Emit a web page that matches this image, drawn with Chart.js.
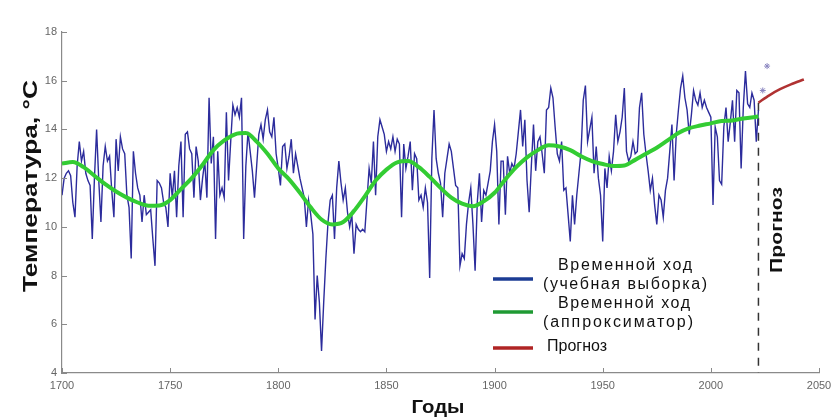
<!DOCTYPE html>
<html><head><meta charset="utf-8">
<script src="https://cdn.jsdelivr.net/npm/chart.js@4.4.0/dist/chart.umd.min.js"></script>
<style>html,body{margin:0;padding:0;background:#fff;overflow:hidden}canvas{display:block}</style>
</head><body>
<canvas id="c" width="840" height="419"></canvas>
<script>
const xTickLabels = [1700, 1750, 1800, 1850, 1900, 1950, 2000, 2050];
const yTickLabels = [4, 6, 8, 10, 12, 14, 16, 18];

const blueStartYear = 1700;
const blueValues = [
  11.3, 12.0, 12.2, 12.3, 12.1, 11.0, 10.4, 12.5, 13.5, 12.7,
  13.1, 12.2, 11.9, 11.7, 9.5, 12.0, 14.0, 11.9, 10.2, 12.5,
  13.3, 12.7, 12.9, 11.5, 10.4, 13.6, 12.3, 13.7, 13.2, 13.0,
  11.3, 10.8, 8.7, 13.1, 12.2, 11.6, 11.3, 10.2, 11.3, 10.5,
  10.6, 10.7, 9.5, 8.4, 11.9, 11.8, 11.6, 11.0, 10.8, 10.0,
  12.2, 11.2, 12.3, 10.4, 12.5, 13.5, 10.4, 13.8, 13.9, 13.2,
  13.0, 11.2, 13.3, 12.7, 11.1, 12.0, 12.7, 11.2, 15.3, 12.6,
  13.7, 9.5, 13.1, 11.3, 11.6, 11.2, 14.7, 11.9, 13.5, 15.0,
  14.6, 14.9, 14.5, 15.3, 9.5, 12.5, 13.9, 13.1, 12.3, 11.2,
  12.5, 13.8, 14.2, 13.6, 14.4, 14.8, 13.9, 13.7, 14.5, 13.0,
  12.4, 11.7, 13.3, 13.4, 12.4, 12.9, 13.6, 12.2, 13.0, 12.5,
  12.0, 11.6, 11.2, 10.0, 11.1, 10.5, 9.7, 6.2, 8.0, 6.9,
  4.9, 6.9, 8.7, 10.2, 11.1, 11.3, 9.5, 11.6, 12.7, 11.8,
  11.1, 11.6, 10.6, 10.0, 10.5, 8.9, 10.1, 9.9, 9.8, 9.9,
  9.8, 11.1, 12.4, 11.8, 13.5, 11.3, 13.7, 14.4, 14.1, 13.8,
  13.1, 13.5, 13.2, 13.7, 13.1, 13.6, 13.4, 10.4, 13.4, 12.4,
  12.9, 13.5, 11.5, 13.0, 12.8, 11.1, 11.3, 10.8, 11.6, 11.0,
  7.9, 12.8, 14.8, 12.8, 12.2, 11.8, 10.4, 12.2, 12.8, 13.4,
  13.1, 12.4, 11.7, 11.6, 8.4, 8.9, 8.7, 10.1, 11.0, 11.6,
  10.1, 8.2, 11.0, 12.2, 10.2, 11.5, 11.3, 11.8, 12.3, 13.5,
  14.2, 13.1, 10.1, 12.7, 12.7, 10.5, 12.9, 12.2, 12.6, 12.4,
  13.0, 13.9, 14.8, 13.3, 14.4, 11.9, 10.6, 12.5, 14.2, 12.3,
  13.5, 13.7, 13.0, 12.2, 14.8, 14.9, 15.7, 15.3, 14.1, 13.0,
  12.7, 13.5, 11.5, 11.6, 10.5, 9.4, 11.3, 10.1, 11.3, 12.2,
  13.1, 15.2, 15.8, 13.5, 14.0, 14.5, 12.2, 13.3, 12.0, 11.3,
  9.4, 12.4, 11.6, 12.9, 12.3, 13.1, 14.6, 13.5, 13.9, 14.5,
  15.7, 13.1, 12.7, 12.9, 13.5, 13.0, 13.1, 14.9, 15.5, 13.8,
  13.0, 12.3, 11.5, 12.0, 10.9, 10.1, 11.3, 11.1, 10.4, 11.5,
  12.0, 13.1, 14.2, 11.9, 13.8, 14.8, 15.7, 16.2, 15.3, 14.8,
  13.8, 14.6, 15.6, 15.2, 15.0, 15.5, 14.9, 15.2, 14.9, 14.7,
  14.5, 10.9, 14.1, 13.7, 11.9, 11.75, 14.1, 14.9, 13.5, 14.3,
  15.2, 13.5, 15.6, 15.5, 12.4, 14.9, 16.4, 15.05, 14.9, 15.5,
  15.2, 13.5, 14.8
];

const greenYears = [1700, 1705, 1710, 1715, 1720, 1725, 1730, 1735, 1740, 1745,
  1750, 1755, 1760, 1765, 1770, 1775, 1780, 1785, 1790, 1795,
  1800, 1805, 1810, 1815, 1820, 1825, 1830, 1835, 1840, 1845,
  1850, 1855, 1860, 1865, 1870, 1875, 1880, 1885, 1890, 1895,
  1900, 1905, 1910, 1915, 1920, 1925, 1930, 1935, 1940, 1945,
  1950, 1955, 1960, 1965, 1970, 1975, 1980, 1985, 1990, 1995,
  2000, 2005, 2010, 2015, 2022];
const greenValues = [12.6, 12.66, 12.45, 12.1, 11.75, 11.45, 11.2, 11.0, 10.87, 10.88,
  11.1, 11.55, 12.0, 12.55, 13.15, 13.55, 13.8, 13.85, 13.5, 13.0,
  12.4, 11.95, 11.4, 10.8, 10.3, 10.1, 10.2, 10.65, 11.25, 11.9,
  12.35, 12.65, 12.7, 12.45, 12.05, 11.6, 11.2, 10.95, 10.85, 11.05,
  11.4, 11.95, 12.45, 12.85, 13.15, 13.35, 13.3, 13.15, 12.9, 12.7,
  12.58, 12.5, 12.52, 12.75, 13.0, 13.25, 13.55, 13.85, 14.05, 14.16,
  14.25, 14.35, 14.37, 14.45, 14.53];

const forecastYears = [2022, 2027, 2032, 2037, 2043];
const forecastValues = [15.1, 15.4, 15.65, 15.85, 16.05];
const markYears = [2024, 2026];
const markValues = [15.6, 16.6];
const dividerYear = 2022;

const legendText = ["Временной ход", "(учебная выборка)", "Временной ход", "(аппроксиматор)", "Прогноз"];
const axisTitleX = "Годы";
const axisTitleY = "Температура, °C";
const dividerLabel = "Прогноз";

const blueData = blueValues.map((v, i) => ({x: blueStartYear + i, y: v}));
const greenData = greenYears.map((y, i) => ({x: y, y: greenValues[i]}));
const redData = forecastYears.map((y, i) => ({x: y, y: forecastValues[i]}));
const markData = markYears.map((y, i) => ({x: y, y: markValues[i]}));

function stretchText(ctx, text, cx, cy, w, font, color, rot) {
  ctx.save();
  ctx.font = font; ctx.fillStyle = color;
  ctx.textAlign = 'center'; ctx.textBaseline = 'middle';
  ctx.translate(cx, cy);
  if (rot) ctx.rotate(rot);
  const m = ctx.measureText(text).width;
  ctx.scale(w / m, 1);
  ctx.fillText(text, 0, 0);
  ctx.restore();
}

function spacedText(ctx, text, left, cy, w, font, color) {
  ctx.save();
  ctx.font = font; ctx.fillStyle = color;
  ctx.textAlign = 'left'; ctx.textBaseline = 'middle';
  const m = ctx.measureText(text).width;
  const n = Math.max(1, text.length - 1);
  const sp = Math.max(0, (w - m) / n);
  if ('letterSpacing' in ctx) {
    ctx.letterSpacing = sp + 'px';
  }
  ctx.fillText(text, left, cy);
  ctx.restore();
}

const decor = {
  id: 'decor',
  beforeDatasetsDraw(chart) {
    const ctx = chart.ctx, x = chart.scales.x, y = chart.scales.y;
    const px = x.getPixelForValue(dividerYear);
    ctx.save();
    ctx.strokeStyle = '#333'; ctx.lineWidth = 1.5; ctx.setLineDash([8, 7]);
    ctx.beginPath();
    ctx.moveTo(px, y.getPixelForValue(forecastValues[0]));
    ctx.lineTo(px, y.getPixelForValue(4));
    ctx.stroke();
    ctx.restore();
  },
  afterDraw(chart) {
    const ctx = chart.ctx, x = chart.scales.x, y = chart.scales.y;
    const a = chart.chartArea;
    ctx.save();
    ctx.strokeStyle = '#8a8a8a'; ctx.lineWidth = 1;
    xTickLabels.forEach(v => {
      const p = Math.round(x.getPixelForValue(v)) + 0.5;
      ctx.beginPath(); ctx.moveTo(p, a.bottom); ctx.lineTo(p, a.bottom - 5); ctx.stroke();
    });
    yTickLabels.forEach(v => {
      const p = Math.round(y.getPixelForValue(v)) + 0.5;
      ctx.beginPath(); ctx.moveTo(a.left, p); ctx.lineTo(a.left + 5, p); ctx.stroke();
    });
    ctx.restore();

    stretchText(ctx, axisTitleY, 31, 186, 212, 'bold 21px "Liberation Sans", Arial, sans-serif', '#111', -Math.PI / 2);
    stretchText(ctx, axisTitleX, 438, 408, 53, 'bold 19px "Liberation Sans", Arial, sans-serif', '#111', 0);
    stretchText(ctx, dividerLabel, 777, 230, 86, 'bold 17px "Liberation Sans", Arial, sans-serif', '#111', -Math.PI / 2);

    // legend
    const lf = '16px "Liberation Sans", Arial, sans-serif';
    spacedText(ctx, legendText[0], 558, 266, 134, lf, '#111');
    spacedText(ctx, legendText[1], 543, 285, 164, lf, '#111');
    spacedText(ctx, legendText[2], 558, 304, 132, lf, '#111');
    spacedText(ctx, legendText[3], 543, 323, 150, lf, '#111');
    spacedText(ctx, legendText[4], 547, 347, 51, lf, '#111');
    const samples = [['#1c3c94', 279], ['#1f9a33', 312], ['#b02424', 348]];
    ctx.save();
    ctx.lineWidth = 3.5;
    samples.forEach(([c, yy]) => {
      ctx.strokeStyle = c;
      ctx.beginPath(); ctx.moveTo(493, yy); ctx.lineTo(533, yy); ctx.stroke();
    });
    ctx.restore();
  }
};

const tickFont = {family: '"Liberation Sans", Arial, sans-serif', size: 11};

new Chart(document.getElementById('c'), {
  type: 'line',
  data: {
    datasets: [
      {label: 'markers', type: 'scatter', data: markData, pointStyle: 'star', radius: 3,
       borderColor: '#8a86c0', backgroundColor: '#8a86c0', borderWidth: 1, order: 0},
      {label: 'forecast', data: redData, borderColor: '#b03232', borderWidth: 2.5,
       pointRadius: 0, tension: 0.3, order: 1},
      {label: 'approx', data: greenData, borderColor: '#33cc33', borderWidth: 4,
       pointRadius: 0, cubicInterpolationMode: 'monotone', order: 2},
      {label: 'train', data: blueData, borderColor: '#2c2c9c', borderWidth: 1.4,
       pointRadius: 0, tension: 0, order: 3}
    ]
  },
  options: {
    responsive: false, animation: false, devicePixelRatio: 1,
    layout: {padding: {top: 32, right: 21, left: 0, bottom: 0}},
    plugins: {legend: {display: false}, tooltip: {enabled: false}},
    scales: {
      x: {
        type: 'linear', min: 1700, max: 2050,
        afterBuildTicks: s => { s.ticks = xTickLabels.map(v => ({value: v})); },
        afterFit: s => { s.height = 46; },
        ticks: {callback: v => String(v), font: tickFont, color: '#666', padding: 6, maxRotation: 0},
        grid: {display: true, drawOnChartArea: false, drawTicks: false},
        border: {color: '#8a8a8a', width: 1.2}
      },
      y: {
        min: 4, max: 18,
        afterBuildTicks: s => { s.ticks = yTickLabels.map(v => ({value: v})); },
        afterFit: s => { s.width = 62; },
        ticks: {callback: v => String(v), font: tickFont, color: '#666', padding: 5},
        grid: {display: true, drawOnChartArea: false, drawTicks: false},
        border: {color: '#8a8a8a', width: 1.2}
      }
    }
  },
  plugins: [decor]
});
</script>
</body></html>
